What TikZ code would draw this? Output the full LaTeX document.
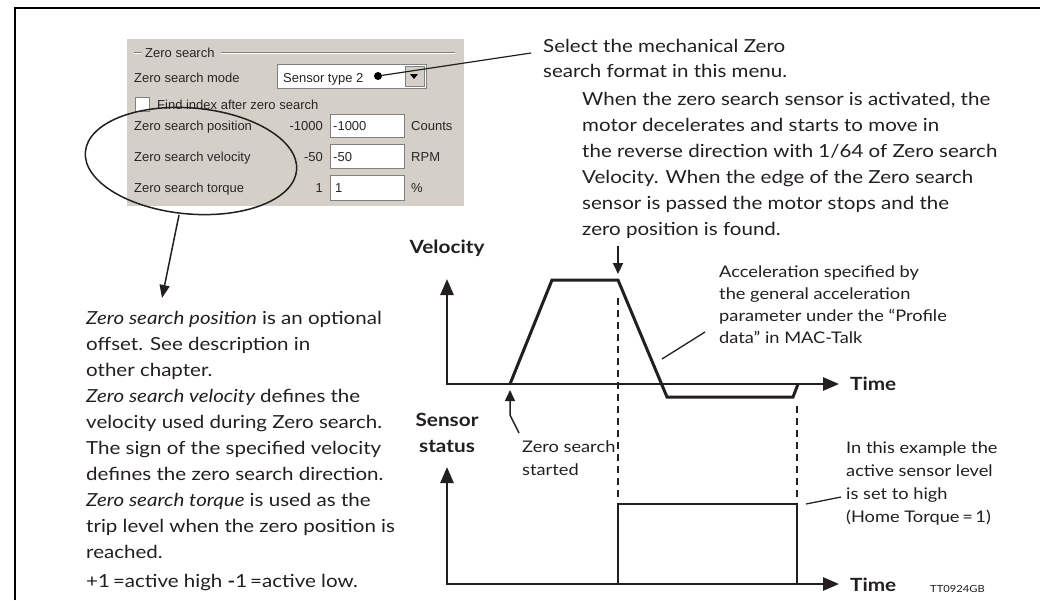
\documentclass[tikz,border=0pt]{standalone}
\usepackage{fontspec}
\setmainfont{Lato}[FakeStretch=1.14]
\newfontfamily\guifont{Liberation Sans}
\usetikzlibrary{arrows.meta}
\definecolor{guigray}{HTML}{D4D0C8}
\definecolor{guidark}{HTML}{808080}
\definecolor{ink}{HTML}{231F20}
\tikzset{
  txt/.style={anchor=base west, inner sep=0pt, text=ink, font=\fontsize{18}{20}\selectfont},
  sm/.style={anchor=base west, inner sep=0pt, text=ink, font=\fontsize{16}{18}\selectfont},
  lbl/.style={inner sep=0pt, text=ink, font=\bfseries\fontsize{18.2}{20}\selectfont},
  gui/.style={anchor=base west, inner sep=0pt, text=black!85, font=\guifont\fontsize{13}{14}\selectfont},
  guir/.style={gui, anchor=base east},
  field/.style={fill=white, draw=guidark, line width=0.8pt},
  axis/.style={draw=ink, line width=2.6pt, {Triangle[length=16pt,width=13pt]}-{Triangle[length=16pt,width=13pt]}},
  prof/.style={draw=ink, line width=3pt, line join=miter},
  dsh/.style={draw=ink, line width=2pt, dash pattern=on 7pt off 5pt},
  ptr/.style={draw=ink, line width=1.3pt},
}
\begin{document}
\begin{tikzpicture}[x=1pt,y=-1pt]
\useasboundingbox (0,0) rectangle (1040,600);
\fill[white] (0,0) rectangle (1040,600);
% frame
\draw[line width=2.2pt, black] (15,600) -- (15,8) -- (1040,8);

% ---------- GUI panel ----------
\fill[guigray] (127,39) rectangle (464,206);
\draw[guidark, line width=0.7pt] (134,52) -- (142,52) (221,52) -- (455,52);
\draw[white, line width=0.7pt] (134,53) -- (142,53) (221,53) -- (455,53);
\node[gui] (gtitle) at (145,57) {Zero search};
\node[gui] (gmode) at (134,82) {Zero search mode};
\node[field, minimum width=149, minimum height=24, anchor=north west, inner sep=0pt] (combo) at (277,64) {};
\node[fill=guigray, draw=guidark, line width=0.6pt, minimum width=19, minimum height=20, anchor=north west, inner sep=0pt] (cbtn) at (405,66) {};
\fill[black] (410,74) -- (418,74) -- (414,79) -- cycle;
\node[gui] (cval) at (283,82) {Sensor type 2};
\node[circle, fill=black, inner sep=0pt, minimum size=8] (dot) at (378,76) {};
\coordinate (selend) at (531,53);
\draw[ptr, line width=1.2pt] (dot) -- (selend);
\node[field, minimum width=14, minimum height=14, anchor=north west, inner sep=0pt] (chk) at (135,97) {};
\node[gui] (gfind) at (157,109) {Find index after zero search};
% rows
\node[gui] (gpos) at (134,130) {Zero search position};
\node[guir] (gposv) at (323,130) {-1000};
\node[field, minimum width=74, minimum height=23, anchor=north west, inner sep=0pt] (bpos) at (330,114) {};
\node[gui] (gposb) at (333,130) {-1000};
\node[gui] (gposu) at (411,130) {Counts};
\node[gui] (gvel) at (134,161) {Zero search velocity};
\node[guir] (gvelv) at (323,161) {-50};
\node[field, minimum width=74, minimum height=24, anchor=north west, inner sep=0pt] (bvel) at (330,144) {};
\node[gui] (gvelb) at (333,161) {-50};
\node[gui] (gvelu) at (411,161) {RPM};
\node[gui] (gtor) at (134,192) {Zero search torque};
\node[guir] (gtorv) at (323,192) {1};
\node[field, minimum width=74, minimum height=25, anchor=north west, inner sep=0pt] (btor) at (330,175) {};
\node[gui] (gtorb) at (335,192) {1};
\node[gui] (gtoru) at (411,192) {\%};

% ellipse and arrow
\draw[ink, line width=1.5pt, rotate around={-5:(191,161)}] (191,161) ellipse [x radius=106, y radius=53];
\coordinate (ellb) at (179,215);
\coordinate (ellarr) at (162,298);
\draw[ink, line width=1.5pt, -{Triangle[length=13pt,width=10pt]}] (ellb) -- (ellarr);

% ---------- left text ----------
\node[txt] (l1) at (86,324) {{\itshape Zero search position} is an optional};
\node[txt] (l2) at (86,350) {offset. See description in};
\node[txt] (l3) at (86,376) {other chapter.};
\node[txt] (l4) at (86,402) {{\itshape Zero search velocity} defines the};
\node[txt] (l5) at (86,428) {velocity used during Zero search.};
\node[txt] (l6) at (86,454) {The sign of the specified velocity};
\node[txt] (l7) at (86,480) {defines the zero search direction.};
\node[txt] (l8) at (86,506) {{\itshape Zero search torque} is used as the};
\node[txt] (l9) at (86,532) {trip level when the zero position is};
\node[txt] (l10) at (86,558) {reached.};
\node[txt] (l11) at (86,587) {+1\,=active high {\bfseries -}1\,=active low.};

% ---------- top right text ----------
\node[txt] (s1) at (543,52) {Select the mechanical Zero};
\node[txt] (s2) at (543,77) {search format in this menu.};
\node[txt] (w1) at (582,105) {When the zero search sensor is activated, the};
\node[txt] (w2) at (582,131) {motor decelerates and starts to move in};
\node[txt] (w3) at (582,157) {the reverse direction with 1/64 of Zero search};
\node[txt] (w4) at (582,183) {Velocity. When the edge of the Zero search};
\node[txt] (w5) at (582,209) {sensor is passed the motor stops and the};
\node[txt] (w6) at (582,235) {zero position is found.};

% ---------- velocity chart ----------
\node[lbl, anchor=base] (vlab) at (447,253) {Velocity};
\coordinate (vtop) at (447,279);
\coordinate (vo) at (447,384);
\coordinate (vend) at (839,384);
\draw[axis] (vtop) -- (vo) -- (vend);
\node[lbl, anchor=base west] (t1) at (850,390) {Time};

\coordinate (p0) at (510,384);
\coordinate (p1) at (552,280);
\coordinate (p2) at (618,280);
\coordinate (p3) at (667,397);
\coordinate (p4) at (793,397);
\coordinate (p5) at (798,384);
\draw[prof] (p0) -- (p1) -- (p2) -- (p3) -- (p4) -- (p5);

\coordinate (da0) at (618,246);
\coordinate (da1) at (618,274);
\draw[ink, line width=2pt, -{Triangle[length=11pt,width=10pt]}] (da0) -- (da1);

% accel annotation
\node[sm] (a1) at (719,277) {Acceleration specified by};
\node[sm] (a2) at (719,299) {the general acceleration};
\node[sm] (a3) at (719,321) {parameter under the “Profile};
\node[sm] (a4) at (719,343) {data” in MAC-Talk};
\coordinate (ap0) at (705,332);
\coordinate (ap1) at (662,359);
\draw[ptr] (ap0) -- (ap1);

% zero search started
\node[sm] (z1) at (522,452) {Zero search};
\node[sm] (z2) at (522,475) {started};
\coordinate (zs0) at (519,433);
\coordinate (zs1) at (510,415);
\coordinate (zs2) at (510,390);
\draw[ink, line width=1.5pt, -{Triangle[length=11pt,width=10pt]}] (zs0) -- (zs1) -- (zs2);

% dashed lines
\coordinate (d1a) at (618,298);
\coordinate (d1b) at (618,502);
\coordinate (d2a) at (797,406);
\coordinate (d2b) at (797,502);
\draw[dsh] (d1a) -- (d1b);
\draw[dsh] (d2a) -- (d2b);

% ---------- sensor chart ----------
\node[lbl, anchor=base] (sl1) at (447,426) {Sensor};
\node[lbl, anchor=base] (sl2) at (447,452) {status};
\coordinate (stop) at (447,467);
\coordinate (so) at (447,584);
\coordinate (send) at (839,584);
\draw[axis] (stop) -- (so) -- (send);
\node[lbl, anchor=base west] (t2) at (850,591) {Time};
\node[anchor=base west, inner sep=0pt, text=ink, font=\fontsize{9.8}{12}\selectfont] (code) at (930,592) {TT0924GB};

\coordinate (r0) at (618,584);
\coordinate (r1) at (618,504);
\coordinate (r2) at (797,504);
\coordinate (r3) at (797,584);
\draw[prof, line width=2.6pt] (r0) -- (r1) -- (r2) -- (r3);

\node[sm] (e1) at (846,453) {In this example the};
\node[sm] (e2) at (846,476) {active sensor level};
\node[sm] (e3) at (846,499) {is set to high};
\node[sm] (e4) at (846,522) {(Home Torque\,=\,1)};
\coordinate (ep0) at (841,497);
\coordinate (ep1) at (806,504);
\draw[ptr] (ep0) -- (ep1);
\end{tikzpicture}
\end{document}
